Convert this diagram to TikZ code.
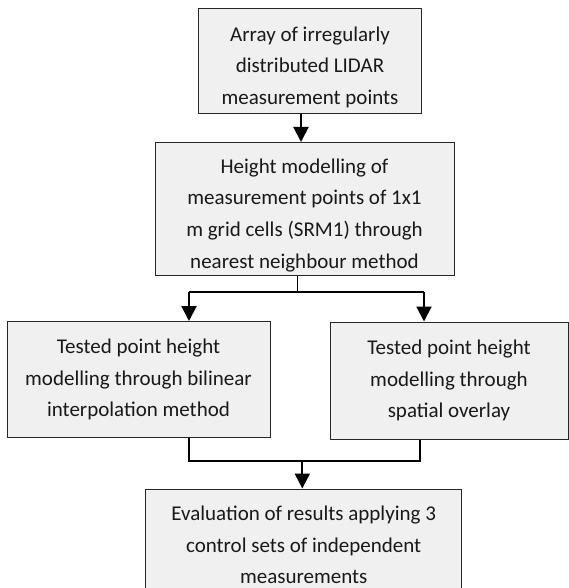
\documentclass[tikz,border=0pt]{standalone}
\usepackage{fontspec}
\setmainfont{Carlito}
\usetikzlibrary{arrows.meta}
\begin{document}
\begin{tikzpicture}[x=1pt, y=-1pt, flow/.style={-{Triangle[width=15pt,length=15pt]}, line width=2pt}, main node/.style={rectangle, draw=black!85, fill=black!6, line width=1pt, align=center, inner sep=0pt, text=black!90, font=\fontsize{21}{31.7}\selectfont}]
        \useasboundingbox (0,0) rectangle (568,588);

          \node[main node, minimum width=223pt, minimum height=105pt] (1) at (310,61) {\rule{0pt}{27pt}Array of irregularly\\distributed LIDAR\\measurement points};
          \node[main node, minimum width=299pt, minimum height=133pt] (2) at (304.5,209) {\rule{0pt}{27pt}Height modelling of\\measurement points of 1x1\\m grid cells (SRM1) through\\nearest neighbour method};
          \node[main node, minimum width=263pt, minimum height=116pt] (3) at (138.5,379.5) {Tested point height\\modelling through bilinear\\interpolation method};
          \node[main node, minimum width=238pt, minimum height=117pt] (4) at (449,380.5) {Tested point height\\modelling through\\spatial overlay};
          \node[main node, minimum width=316pt, minimum height=112pt] (5) at (303.7,545) {Evaluation of results applying 3\\control sets of independent\\measurements};

          \coordinate (a) at (301,0);
          \coordinate (b) at (297.7,0);
          \coordinate (splitL) at (189,292);
          \coordinate (splitR) at (424,292);
          \coordinate (joinL) at (189,461);
          \coordinate (joinR) at (420,461);
          \coordinate (c) at (302.3,0);

          \draw[flow] (1.south -| a) -- (2.north -| a);
          \draw[line width=1pt] (2.south -| b) -- (splitL -| b);
          \draw[line width=2pt] (splitL) -- (splitR);
          \draw[flow] (splitL) -- (3.north -| splitL);
          \draw[flow] (splitR) -- (4.north -| splitR);
          \draw[line width=2pt] (3.south -| joinL) -- (joinL) -- (joinR) -- (4.south -| joinR);
          \draw[flow] (joinL -| c) -- (5.north -| c);

\end{tikzpicture}
\end{document}
